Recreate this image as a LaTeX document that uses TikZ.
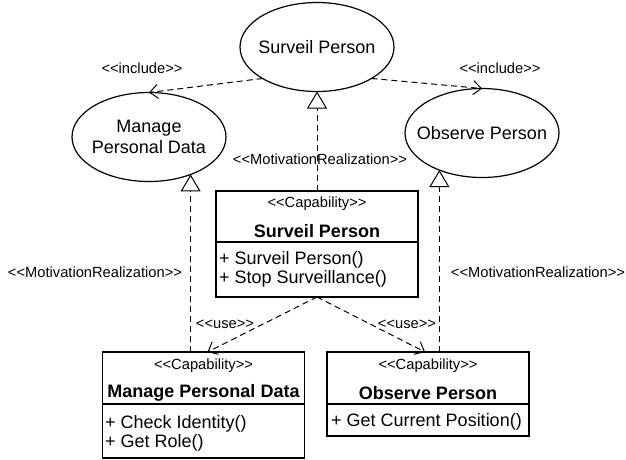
\documentclass[tikz,border=0pt]{standalone}
\usepackage{fontspec}
\setmainfont{Liberation Sans}
\usetikzlibrary{arrows.meta,shapes.geometric,calc}
% stereotype guillemets written as two separate angle brackets
\newcommand\stereo[1]{<\kern0pt<#1>\kern0pt>}
\begin{document}
\begin{tikzpicture}[x=1pt,y=-1pt,
  big/.style={font=\fontsize{18}{21}\selectfont},
  bigbold/.style={font=\fontsize{18}{21}\selectfont\bfseries},
  small/.style={font=\fontsize{14.7}{16}\selectfont},
  usecase/.style={draw, ellipse, line width=1.2pt, minimum width=154pt,
    minimum height=89pt, inner sep=0pt, outer sep=0pt},
  classbox/.style={draw, rectangle, line width=1.2pt, minimum width=202pt,
    inner sep=0pt, outer sep=0pt},
  divider/.style={line width=1.2pt},
  dep/.style={line width=1pt, dash pattern=on 6pt off 4pt},
  opentip/.style={dep, -{Straight Barb[length=8pt,width=14pt]}},
  realize/.style={dep, -{Triangle[open,length=17pt,width=20pt]}},
  lbl/.style={small, inner sep=0pt},
  member/.style={big, inner sep=0pt, anchor=west},
]
\useasboundingbox[fill=white] (0,0) rectangle (626,459);

% use cases
\node[usecase, label={[big]center:Surveil Person}] (sp) at (317,47) {};
\node[usecase, label={[big,align=center]center:Manage\\Personal Data}] (mpd) at (149,137) {};
\node[usecase, label={[big]center:Observe Person}] (obs) at (482,133) {};

% capability classes
\node[classbox, minimum height=106pt] (spbox) at (317,244) {};
\node[lbl] (spst) at (317,204) {\stereo{Capability}};
\node[bigbold, inner sep=0pt] (spname) at (317,231) {Surveil Person};
\draw[divider] ($(spbox.north west)+(0,51)$) -- ($(spbox.north east)+(0,51)$);
\node[member] (spm1) at (219,260) {+ Surveil Person()};
\node[member] (spm2) at (219,279) {+ Stop Surveillance()};

\node[classbox, minimum height=106pt] (mpdbox) at (203.5,405) {};
\node[lbl] (mpdst) at (203.5,366) {\stereo{Capability}};
\node[bigbold, inner sep=0pt] (mpdname) at (203.5,393) {Manage Personal Data};
\draw[divider] ($(mpdbox.north west)+(0,52)$) -- ($(mpdbox.north east)+(0,52)$);
\node[member] (mpdm1) at (105,424) {+ Check Identity()};
\node[member] (mpdm2) at (105,443) {+ Get Role()};

\node[classbox, minimum height=84pt] (obsbox) at (428,394) {};
\node[lbl] (obsst) at (428,366) {\stereo{Capability}};
\node[bigbold, inner sep=0pt] (obsname) at (428,393) {Observe Person};
\draw[divider] ($(obsbox.north west)+(0,52)$) -- ($(obsbox.north east)+(0,52)$);
\node[member] (obsm1) at (331,422) {+ Get Current Position()};

% include relations
\draw[opentip] (sp.south west) -- (mpd.north);
\draw[opentip] (sp.south east) -- (obs.north);
\node[lbl] (inclL) at (142,68) {\stereo{include}};
\node[lbl] (inclR) at (500,68) {\stereo{include}};

% motivation realizations
\coordinate (mpdtip) at (mpd.-42);
\coordinate (obstip) at (obs.-139);
\draw[realize] (spbox.north) -- (sp.south);
\draw[realize] (mpdtip |- mpdbox.north) -- (mpdtip);
\draw[realize] (obstip |- obsbox.north) -- (obstip);
\node[lbl] (mrC) at (320,159) {\stereo{MotivationRealization}};
\node[lbl] (mrL) at (95,272) {\stereo{MotivationRealization}};
\node[lbl] (mrR) at (538,272) {\stereo{MotivationRealization}};

% use relations
\draw[opentip] (spbox.south) -- ($(mpdbox.north)+(4,0)$);
\draw[opentip] (spbox.south) -- ($(obsbox.north)+(-3,0)$);
\node[lbl] (useL) at (225,324) {\stereo{use}};
\node[lbl] (useR) at (407,324) {\stereo{use}};
\end{tikzpicture}
\end{document}
